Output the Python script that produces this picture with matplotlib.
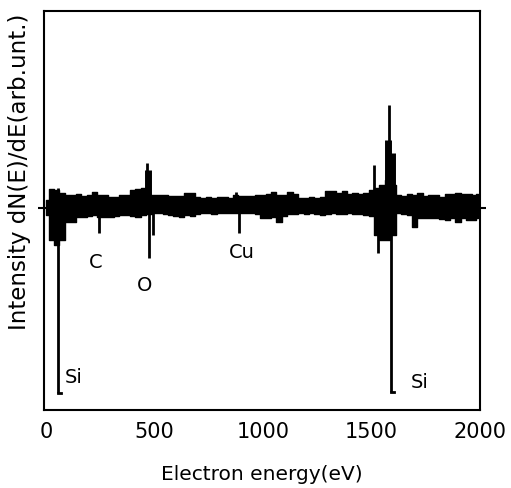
import numpy as np
import matplotlib.pyplot as plt

# energy grid (eV) and band envelope (arb. units)
energy = [0, 25, 50, 75, 100, 125, 150, 175, 200, 225, 250, 275, 300, 325, 350, 375,
          400, 425, 450, 475, 500, 525, 550, 575, 600, 625, 650, 675, 700, 725, 750, 775,
          800, 825, 850, 875, 900, 925, 950, 975, 1000, 1025, 1050, 1075, 1100, 1125, 1150, 1175,
          1200, 1225, 1250, 1275, 1300, 1325, 1350, 1375, 1400, 1425, 1450, 1475, 1500, 1525, 1550, 1575,
          1600, 1625, 1650, 1675, 1700, 1725, 1750, 1775, 1800, 1825, 1850, 1875, 1900, 1925, 1950, 1975, 1990]
upper = [8, 19, 18, 15, 13, 13, 14, 12, 13, 16, 13, 13, 11, 11, 13, 13,
         18, 19, 20, 13, 13, 13, 13, 12, 12, 12, 15, 15, 11, 10, 11, 10,
         11, 11, 10, 13, 12, 12, 12, 13, 13, 14, 16, 13, 13, 16, 14, 10,
         10, 11, 10, 11, 17, 17, 15, 17, 14, 15, 14, 15, 18, 20, 23, 28,
         23, 13, 12, 14, 13, 15, 12, 13, 13, 11, 14, 14, 15, 14, 14, 13, 14]
lower = [-7, -32, -37, -32, -14, -14, -9, -9, -8, -7, -9, -9, -9, -8, -7, -7,
         -8, -9, -7, -6, -5, -5, -6, -7, -8, -9, -7, -8, -6, -5, -5, -6,
         -5, -5, -5, -5, -5, -5, -5, -6, -10, -10, -9, -14, -8, -6, -6, -5,
         -6, -5, -6, -7, -6, -5, -6, -6, -5, -6, -6, -7, -8, -27, -32, -32,
         -27, -5, -6, -7, -19, -10, -10, -10, -10, -11, -12, -10, -14, -10, -12, -12, -10]

# sharp peaks: position, top, bottom
thin_e = [55, 245, 468, 477, 495, 875, 890, 1514, 1530, 1583, 1590]
thin_hi = [20, -3, 45, -5, -5, 16, -3, 43, -5, 103, -5]
thin_lo = [-185, -25, 8, -50, -27, 8, -25, 0, -45, 20, -184]
thick_e = [470, 1575, 1595]
thick_hi = [38, 68, 55]
thick_lo = [8, 20, 20]

peak_names = ['Si', 'C', 'O', 'Cu', 'Si']
name_e = [128, 230, 455, 905, 1725]
name_y = [-170, -54, -77, -44, -175]

fig = plt.figure(figsize=(5.11, 4.88), dpi=100)
ax = fig.add_axes([0.086, 0.160, 0.853, 0.817])

ax.fill_between(energy, lower, upper, step='mid', color='black', lw=1.0, edgecolor='black')
ax.vlines(thin_e, thin_lo, thin_hi, color='black', lw=2)
ax.vlines(thick_e, thick_lo, thick_hi, color='black', lw=5)
# little hooks at the bottom of the Si lines
ax.plot([thin_e[0], thin_e[0] + 15], [thin_lo[0], thin_lo[0]], color='black', lw=2)
ax.plot([thin_e[-1], thin_e[-1] + 15], [thin_lo[-1], thin_lo[-1]], color='black', lw=2)

for name, e, y in zip(peak_names, name_e, name_y):
    ax.text(e, y, name, fontsize=14, ha='center', va='center')

ax.set_xlim(-9, 1991)
ax.set_ylim(-202, 197)
ax.set_xticks([0, 500, 1000, 1500, 2000])
ax.set_xticklabels(['0', '500', '1000', '1500', '2000'])
ax.tick_params(axis='x', which='major', length=0, labelsize=15, pad=9)
ax.set_xticks([500, 1000, 1500], minor=True)
ax.tick_params(axis='x', which='minor', direction='in', length=5, width=1.5)
ax.set_yticks([0])
ax.set_yticklabels([])
ax.tick_params(axis='y', direction='inout', length=8, width=1.5, right=True)
for s in ax.spines.values():
    s.set_linewidth(1.5)

ax.set_xlabel('Electron energy(eV)', fontsize=14.5, labelpad=16)
ax.set_ylabel('Intensity dN(E)/dE(arb.unt.)', fontsize=16.5)
ax.yaxis.set_label_coords(-0.03, 0.596)

fig.savefig('out.png', dpi=100)
